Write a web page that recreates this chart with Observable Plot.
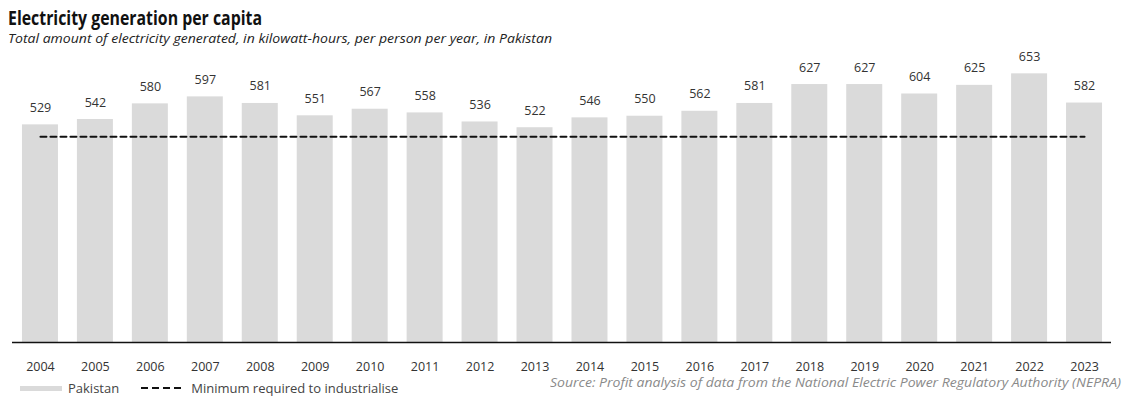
<!DOCTYPE html>
<html>
<head>
<meta charset="utf-8">
<script src="https://cdn.jsdelivr.net/npm/d3@7"></script>
<script src="https://cdn.jsdelivr.net/npm/@observablehq/plot@0.6"></script>
<style>
  body { margin: 0; background: #fff; width: 1130px; height: 398px; position: relative; overflow: hidden; font-family: "Open Sans", Roboto, sans-serif; }
  #title { position: absolute; left: 8px; top: 9px; font-size: 19px; line-height: 19px; font-weight: 700; color: #111; white-space: nowrap; transform-origin: left top; }
  #subtitle { position: absolute; left: 8px; top: 31px; font-size: 13px; line-height: 14px; font-style: italic; color: #222; white-space: nowrap; transform-origin: left top; }
  #chart { position: absolute; left: 0; top: 48px; }
  #legend { position: absolute; left: 20px; top: 380px; font-size: 13px; line-height: 16px; color: #444; white-space: nowrap; display: flex; align-items: center; }
  .sw { display: inline-block; width: 42px; height: 5px; background: #dadada; margin-right: 6px; }
  #legend svg { margin: 0 8px 0 22px; }
  #source { position: absolute; left: 550px; top: 376px; font-size: 12.5px; line-height: 14px; font-style: italic; color: #8a8a8a; white-space: nowrap; transform-origin: left top; }
</style>
</head>
<body>
<div id="title">Electricity generation per capita</div>
<div id="subtitle">Total amount of electricity generated, in kilowatt-hours, per person per year, in Pakistan</div>
<div id="chart"></div>
<div id="legend"><span class="sw"></span>Pakistan<svg width="42" height="4"><line x1="0" x2="42" y1="2" y2="2" stroke="#111" stroke-width="2" stroke-dasharray="7,4"></line></svg>Minimum required to industrialise</div>
<div id="source">Source: Profit analysis of data from the National Electric Power Regulatory Authority (NEPRA)</div>
<script>
const years = ["2004","2005","2006","2007","2008","2009","2010","2011","2012","2013","2014","2015","2016","2017","2018","2019","2020","2021","2022","2023"];
const values = [529,542,580,597,581,551,567,558,536,522,546,550,562,581,627,627,604,625,653,582];
const minimumRequired = 500;

const data = years.map((y, i) => ({year: y, value: values[i]}));
const threshold = [{year: years[0], value: minimumRequired}, {year: years[years.length - 1], value: minimumRequired}];

const chart = Plot.plot({
  width: 1130,
  height: 328,
  marginLeft: 3,
  marginRight: 9,
  marginTop: 6,
  marginBottom: 34,
  style: {fontFamily: "Open Sans, Roboto, sans-serif", fontSize: "12.5px", color: "#333", background: "transparent"},
  x: {domain: years, padding: 0.345, round: false, label: null, tickSize: 0, tickPadding: 20},
  y: {domain: [0, 700], axis: null},
  marks: [
    Plot.barY(data, {x: "year", y: "value", fill: "#dadada"}),
    Plot.text(data, {x: "year", y: "value", text: d => String(d.value), dy: -17, fill: "#333", fontSize: 12.5}),
    Plot.lineY(threshold, {x: "year", y: "value", stroke: "#111", strokeWidth: 2, strokeDasharray: "6,4"}),
    Plot.ruleY([0], {insetLeft: 9, insetRight: 10, stroke: "#111", strokeWidth: 1.5})
  ]
});
document.getElementById("chart").appendChild(chart);

function fit(id, w) {
  const el = document.getElementById(id);
  const r = el.getBoundingClientRect().width;
  el.style.transform = `scaleX(${w / r})`;
}
fit("title", 254);
fit("subtitle", 544);
fit("source", 571);
</script>
</body>
</html>
